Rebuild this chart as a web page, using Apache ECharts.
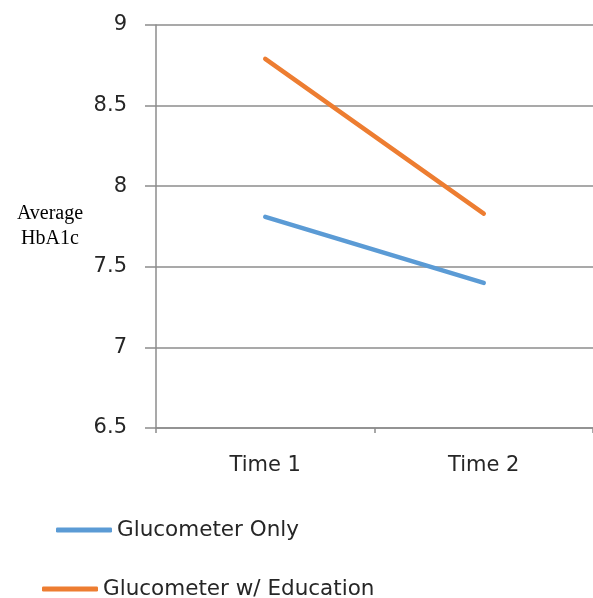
<!DOCTYPE html>
<html>
<head>
<meta charset="utf-8">
<script src="https://cdn.jsdelivr.net/npm/echarts@6/dist/echarts.min.js"></script>
<style>
html,body{margin:0;padding:0;background:#fff;}
#chart{width:593px;height:598px;}
</style>
</head>
<body>
<div id="chart"></div>
<script>
const categories = ['Time 1', 'Time 2'];
const glucometerOnly = [7.81, 7.40];
const glucometerEducation = [8.79, 7.83];
const seriesNames = ['Glucometer Only', 'Glucometer w/ Education'];
const yAxisName = 'Average\nHbA1c';

const chart = echarts.init(document.getElementById('chart'), null, {renderer: 'canvas'});
const axisGray = '#8c8c8c';
const labelFont = 'DejaVu Sans';
chart.setOption({
  animation: false,
  backgroundColor: '#ffffff',
  grid: {left: 156, right: 0, top: 25, bottom: 170, containLabel: false},
  legend: [
    {
      data: [seriesNames[0]],
      left: 51, top: 513,
      icon: 'roundRect', itemWidth: 56, itemHeight: 5,
      textStyle: {fontFamily: labelFont, fontSize: 21.5, color: '#262626', lineHeight: 24}
    },
    {
      data: [seriesNames[1]],
      left: 37, top: 572,
      icon: 'roundRect', itemWidth: 56, itemHeight: 5,
      textStyle: {fontFamily: labelFont, fontSize: 21.5, color: '#262626', lineHeight: 24}
    }
  ],
  xAxis: {
    type: 'category',
    data: categories,
    boundaryGap: true,
    axisLine: {lineStyle: {color: axisGray, width: 1.5}},
    axisTick: {show: true, length: 5, lineStyle: {color: axisGray, width: 1.5}},
    axisLabel: {fontFamily: labelFont, fontSize: 21, color: '#262626', margin: 27}
  },
  yAxis: {
    type: 'value',
    min: 6.5, max: 9, interval: 0.5,
    name: yAxisName,
    nameLocation: 'middle',
    nameRotate: 0,
    nameGap: 106,
    nameTextStyle: {fontFamily: 'Liberation Serif', fontSize: 20, color: '#000', align: 'center', verticalAlign: 'middle', lineHeight: 25},
    axisLine: {show: true, lineStyle: {color: axisGray, width: 1.5}},
    axisTick: {show: true, length: 11, lineStyle: {color: axisGray, width: 1.5}},
    splitLine: {show: true, lineStyle: {color: axisGray, width: 1.5}},
    axisLabel: {fontFamily: labelFont, fontSize: 21, color: '#262626', margin: 29}
  },
  series: [
    {
      name: seriesNames[0], type: 'line', data: glucometerOnly,
      showSymbol: false, symbol: 'none',
      lineStyle: {color: '#5B9BD5', width: 4.5, cap: 'round'},
      itemStyle: {color: '#5B9BD5'}
    },
    {
      name: seriesNames[1], type: 'line', data: glucometerEducation,
      showSymbol: false, symbol: 'none',
      lineStyle: {color: '#ED7D31', width: 4.5, cap: 'round'},
      itemStyle: {color: '#ED7D31'}
    }
  ]
});
</script>
</body>
</html>
